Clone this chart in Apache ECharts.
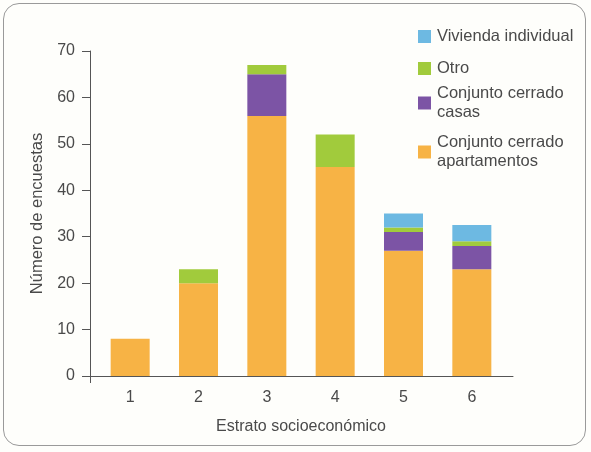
<!DOCTYPE html>
<html>
<head>
<meta charset="utf-8">
<script src="https://cdn.jsdelivr.net/npm/echarts@6/dist/echarts.min.js"></script>
<style>
html,body{margin:0;padding:0;background:#fefefb;}
#frame{position:absolute;left:3px;top:3px;width:583px;height:443px;border:1px solid #9a9a9a;border-radius:16px;box-sizing:border-box;}
#chart{position:absolute;left:0;top:0;width:591px;height:452px;}
</style>
</head>
<body>
<div id="frame"></div>
<div id="chart"></div>
<script>
// Data
const categories = ['1', '2', '3', '4', '5', '6'];
const seriesNames = ['Conjunto cerrado\napartamentos', 'Conjunto cerrado\ncasas', 'Otro', 'Vivienda individual'];
const apartamentos = [8, 20, 56, 45, 27, 23];
const casas = [0, 0, 9, 0, 4, 5];
const otro = [0, 3, 2, 7, 1, 1];
const vivienda = [0, 0, 0, 0, 3, 3.5];
const yTicks = [0, 10, 20, 30, 40, 50, 60, 70];

const colors = ['#f7b345', '#7c54a5', '#a1cb3c', '#6db9e2'];
const valuesList = [apartamentos, casas, otro, vivienda];
const font = '"Liberation Sans", Arial, sans-serif';
const txt = '#4a4a4a';
const axisColor = '#555';

const chart = echarts.init(document.getElementById('chart'), null, {renderer: 'canvas'});

const series = valuesList.map((vals, i) => ({
  name: seriesNames[i],
  type: 'bar',
  stack: 'total',
  xAxisIndex: 0,
  yAxisIndex: 0,
  barWidth: 39,
  itemStyle: {color: colors[i]},
  data: vals
}));

const legendTops = [27, 59, 84, 133];
const legendOrder = [3, 2, 1, 0];
const legends = legendOrder.map((si, k) => ({
  data: [seriesNames[si]],
  left: 418,
  top: legendTops[k],
  padding: 0,
  itemWidth: 13,
  itemHeight: 13,
  orient: 'vertical',
  selectedMode: false,
  icon: 'rect',
  textStyle: {fontFamily: font, fontSize: 16.5, color: txt, lineHeight: 19, padding: [0, 0, 0, 1]}
}));

chart.setOption({
  animation: false,
  textStyle: {fontFamily: font},
  legend: legends,
  grid: [
    {left: 96, right: 85, top: 51, bottom: 76},
    {left: 90, right: 78, top: 51, bottom: 76}
  ],
  xAxis: [
    {
      gridIndex: 0,
      type: 'category',
      data: categories,
      axisLine: {show: false},
      axisTick: {show: false},
      axisLabel: {color: txt, fontSize: 16, fontFamily: font, margin: 14},
      name: 'Estrato socioeconómico',
      nameLocation: 'middle',
      nameGap: 43,
      nameTextStyle: {color: txt, fontSize: 16, fontFamily: font}
    },
    {
      gridIndex: 1,
      type: 'value',
      min: 0,
      max: 1,
      interval: 1,
      splitLine: {show: false},
      axisLabel: {show: false},
      axisLine: {show: true, lineStyle: {color: axisColor, width: 1}},
      axisTick: {show: true, inside: false, length: 7, customValues: [0], lineStyle: {color: axisColor}}
    }
  ],
  yAxis: [
    {
      gridIndex: 0,
      type: 'value',
      min: yTicks[0],
      max: yTicks[yTicks.length - 1],
      interval: 10,
      show: false
    },
    {
      gridIndex: 1,
      type: 'value',
      min: yTicks[0],
      max: yTicks[yTicks.length - 1],
      interval: 10,
      splitLine: {show: false},
      axisLine: {show: true, lineStyle: {color: axisColor, width: 1}},
      axisTick: {show: true, length: 8, lineStyle: {color: axisColor}},
      axisLabel: {color: txt, fontSize: 16, fontFamily: font, margin: 15},
      name: 'Número de encuestas',
      nameLocation: 'middle',
      nameGap: 44,
      nameTextStyle: {color: txt, fontSize: 16.5, fontFamily: font}
    }
  ],
  series: series
});
</script>
</body>
</html>
